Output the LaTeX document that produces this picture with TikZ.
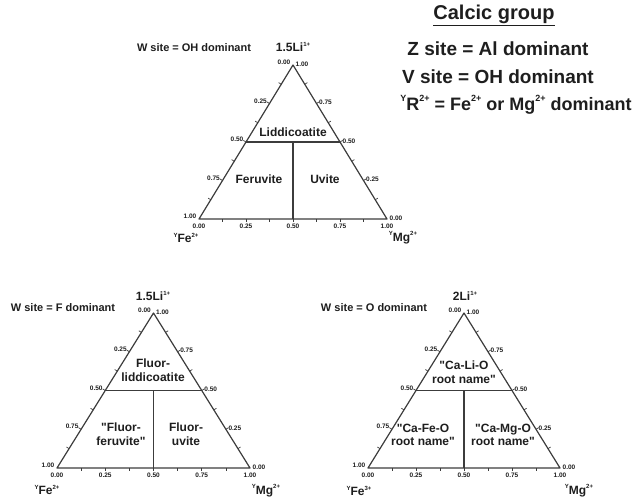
\documentclass[tikz,border=0pt]{standalone}
\usepackage{fontspec}
\setmainfont{Liberation Sans}[Ligatures=TeXOff]
\usetikzlibrary{calc}
\definecolor{ink}{HTML}{1E1E1E}
\definecolor{edge}{HTML}{3C3C3C}
\newcommand\sps[1]{\raisebox{0.9ex}{\scalebox{0.5}{#1}}}
\tikzset{
  side/.style={draw=edge, line width=1.2pt, line join=round},
  tick/.style={draw=edge, line width=0.7pt},
  tlab/.style={text=ink, font=\fontsize{6.5}{7}\selectfont\bfseries, inner sep=0pt},
  region/.style={text=ink, font=\fontsize{12}{13.5}\selectfont\bfseries, align=center, inner sep=0pt},
  wsite/.style={text=ink, font=\fontsize{11}{12}\selectfont\bfseries, inner sep=0pt},
  corner/.style={text=ink, font=\fontsize{12}{12}\selectfont\bfseries, inner sep=0pt},
  head/.style={text=ink, font=\fontsize{19}{21}\selectfont\bfseries, inner sep=0pt},
}
\newcommand\ternary[5]{%
  \coordinate (#1A) at (#2,#3);
  \coordinate (#1L) at ({#2-#4},{#3+#5});
  \coordinate (#1R) at ({#2+#4},{#3+#5});
  \coordinate (#1ML) at ($(#1A)!0.5!(#1L)$);
  \coordinate (#1MR) at ($(#1A)!0.5!(#1R)$);
  \coordinate (#1MB) at ($(#1L)!0.5!(#1R)$);
  \coordinate (#1MC) at ($(#1ML)!0.5!(#1MR)$);
  \draw[side] (#1A) -- (#1L) -- (#1R) -- cycle;
  \draw[side] (#1ML) -- (#1MR);
  \draw[side] (#1MC) -- (#1MB);
  \foreach \i in {1,...,7} {
    \draw[tick] ($(#1L)!\i/8!(#1R)$) -- ++(0,2.5);
    \draw[tick] ($(#1A)!\i/8!(#1L)$) -- ++(-2.6,-1.6);
    \draw[tick] ($(#1A)!\i/8!(#1R)$) -- ++(2.6,-1.6);
  }
  \foreach \k/\t/\u in {0/0.00/1.00,1/0.25/0.75,2/0.50/0.50,3/0.75/0.25,4/1.00/0.00} {
    \node[tlab, anchor=north] (#1b\k) at ($(#1L)!\k/4!(#1R)+(0,5)$) {\t};
    \node[tlab, anchor=east] (#1l\k) at ($(#1A)!\k/4!(#1L)+(-2.5,-2.5)$) {\t};
    \node[tlab, anchor=west] (#1r\k) at ($(#1A)!\k/4!(#1R)+(2.5,-1)$) {\u};
  }
}
\begin{document}
\begin{tikzpicture}[x=1pt,y=-1pt]
\useasboundingbox (0,0) rectangle (632,499);

% header
\node[text=ink, font=\fontsize{20}{22}\selectfont\bfseries, inner sep=0pt] (title) at (494,15) {\underline{Calcic group}};
\node[head] (zsite) at (498,49) {Z site = Al dominant};
\node[head] (vsite) at (498,77) {V site = OH dominant};
\node[head, font=\fontsize{18}{20}\selectfont\bfseries] (rsite) at (516,105) {\sps{Y}R\sps{2+} = Fe\sps{2+} or Mg\sps{2+} dominant};

% top triangle
\ternary{t}{293}{65}{94}{154}
\node[wsite] (tw) at (194,48) {W site = OH dominant};
\node[corner] (tapex) at (293,47) {1.5Li\sps{1+}};
\node[corner] (tfe) at (186,238) {\sps{Y}Fe\sps{2+}};
\node[corner] (tmg) at (403,238) {\sps{Y}Mg\sps{2+}};
\node[region] (lidd) at (293,132) {Liddicoatite};
\node[region] (feru) at (259,179) {Feruvite};
\node[region] (uvit) at (325,179) {Uvite};

% bottom-left triangle
\ternary{f}{153.5}{313}{96.5}{155}
\node[wsite] (fw) at (63,308) {W site = F dominant};
\node[corner] (fapex) at (153,296) {1.5Li\sps{1+}};
\node[corner] (ffe) at (47,490) {\sps{Y}Fe\sps{2+}};
\node[corner] (fmg) at (266,491) {\sps{Y}Mg\sps{2+}};
\node[region] (flidd) at (153,370) {Fluor-\\liddicoatite};
\node[region] (fferu) at (121,434) {"Fluor-\\feruvite"};
\node[region] (fuvit) at (186,434) {Fluor-\\uvite};

% bottom-right triangle
\ternary{o}{464}{313}{96}{155}
\node[wsite] (ow) at (374,308) {W site = O dominant};
\node[corner] (oapex) at (465,296) {2Li\sps{1+}};
\node[corner] (ofe) at (359,491) {\sps{Y}Fe\sps{3+}};
\node[corner] (omg) at (579,491) {\sps{Y}Mg\sps{2+}};
\node[region] (oli) at (464,372) {"Ca-Li-O\\root name"};
\node[region] (ofe2) at (423,435) {"Ca-Fe-O\\root name"};
\node[region] (omg2) at (503,435) {"Ca-Mg-O\\root name"};
\end{tikzpicture}
\end{document}
